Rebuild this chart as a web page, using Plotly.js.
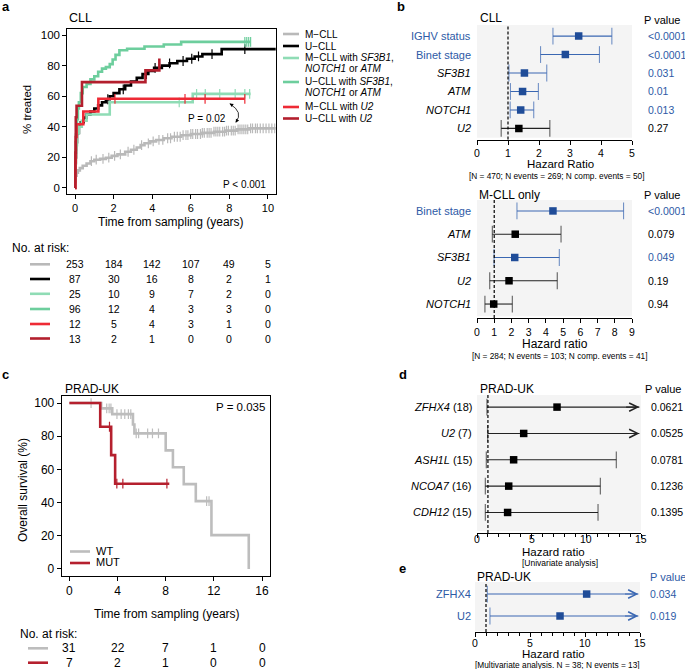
<!DOCTYPE html>
<html><head><meta charset="utf-8">
<script src="https://cdn.plot.ly/plotly-3.0.1.min.js"></script>
<style>html,body{margin:0;padding:0;background:#fff}</style>
</head><body><div id="chart" style="width:685px;height:669px"></div>
<script>
// ================= DATA =================
// Panel a: CLL, cumulative % treated (time in years)
const aSeries = ['M\u2212CLL', 'U\u2212CLL', 'M\u2212CLL with SF3B1, NOTCH1 or ATM', 'U\u2212CLL with SF3B1, NOTCH1 or ATM', 'M\u2212CLL with U2', 'U\u2212CLL with U2'];
const mcllT = [0,0.03,0.08,0.15,0.25,0.4,0.6,0.8,1.0,1.3,1.6,1.9,2.2,2.6,2.9,3.2,3.4,3.6,3.9,4.2,4.6,5.0,5.5,6.0,6.6,7.2,7.8,8.4,9.0,10.6];
const mcllV = [5,8,10,11.5,13,14.5,16,17.5,18.5,19,19.8,21,22,23.7,25,26.5,28,29.2,30.5,31.4,32.5,33.5,34.5,35.3,36,36.8,37.5,38.3,39,39];
const mcllCens = [0.85,1.1,1.45,1.75,2.05,2.35,2.75,3.05,3.45,3.8,4.05,4.35,4.55,4.8,4.95,5.15,5.3,5.45,5.6,5.75,5.85,6.0,6.1,6.25,6.35,6.5,6.6,6.7,6.85,6.95,7.05,7.2,7.3,7.4,7.5,7.65,7.75,7.85,7.95,8.1,8.2,8.3,8.45,8.55,8.65,8.75,8.85,8.95,9.1,9.2,9.35,9.45,9.6,9.75,9.9,10.05,10.2,10.35];
const ucllT = [0,0.02,0.05,0.1,0.2,0.3,0.45,0.6,0.8,1.0,1.2,1.4,1.6,1.8,2.0,2.3,2.6,2.9,3.2,3.5,3.8,4.1,4.5,4.9,5.3,5.8,6.2,6.6,7.6,10.6];
const ucllV = [10,20,30,36,40,43,46,48,50,52,54,56,58,60,62,64.5,67,69.5,72,74.5,76.5,78.5,80,81.5,83,84.5,86,87.5,90.8,90.8];
const ucllCens = [1.7,2.5,3.7,4.15,4.9,5.6,6.05,6.4,7.1,8.8];
const mMutT = [0,0.02,0.05,0.1,0.2,0.35,0.6,1.8,6.1,9.1];
const mMutV = [4,16,28,36,40,44,48,56,61.5,61.5];
const mMutCens = [5.4,6.3,6.75,7.5,8.3,8.8,9.05];
const uMutT = [0,0.02,0.05,0.1,0.15,0.2,0.3,0.4,0.6,0.8,1.0,1.2,1.4,1.6,1.8,1.95,2.1,2.3,2.7,3.6,4.6,5.5,9.1];
const uMutV = [15,25,35,45,52,56,62,66,68,71,73,76,78,79,81,84,87,90,91,92.5,93.8,95.5,95.5];
const uMutCens = [8.8,8.9,9.0,9.1];
const mU2T = [0,0.02,0.04,0.08,0.43,1.21,8.8];
const mU2V = [0,16.7,33.3,41.7,50,58.3,58.3];
const mU2Cens = [2.07,5.7,6.74,8.8];
const uU2T = [0,0.02,0.04,0.08,0.36,3.65,4.37];
const uU2V = [0,23.1,46.2,53.8,69.2,76.9,84.6];
const uU2Cens = [];
const aPvalues = ['P = 0.02', 'P < 0.001'];
const aRiskTimes = [0,2,4,6,8,10];
const aRisk = [
  [253,184,142,107,49,5],
  [87,30,16,8,2,1],
  [25,10,9,7,2,0],
  [96,12,4,3,3,0],
  [12,5,4,3,1,0],
  [13,2,1,0,0,0]
];

// Panel b (top): CLL multivariable model
const b1Labels = ['IGHV status','Binet stage','SF3B1','ATM','NOTCH1','U2'];
const b1HR = [3.28,2.85,1.53,1.47,1.41,1.35];
const b1Lo = [2.45,2.05,1.03,1.08,1.07,0.78];
const b1Hi = [4.35,3.95,2.25,1.98,1.83,2.35];
const b1P = ['<0.0001','<0.0001','0.031','0.01','0.013','0.27'];
const b1Note = '[N = 470; N events = 269; N comp. events = 50]';
// Panel b (bottom): M-CLL only
const b2Labels = ['Binet stage','ATM','SF3B1','U2','NOTCH1'];
const b2HR = [4.41,2.22,2.19,1.86,0.97];
const b2Lo = [2.32,0.89,0.99,0.74,0.46];
const b2Hi = [8.51,4.88,4.78,4.66,2.05];
const b2P = ['<0.0001','0.079','0.049','0.19','0.94'];
const b2Note = '[N = 284; N events = 103; N comp. events = 41]';
const clinical = ['IGHV status','Binet stage'];

// Panel c: PRAD-UK overall survival
const wtT = [0,2.64,3.56,5.28,5.4,8.0,8.6,9.5,10.5,11.8,14.9];
const wtV = [100,96.8,93.3,87.1,81.7,71.5,61.3,51.1,40.9,20.4,0];
const wtCens = [1.8,3.1,3.3,3.45,3.95,4.3,4.6,4.9,5.1,5.55,5.75,6.5,6.9,7.4,11.4,11.6];
const mutT = [0,2.56,3.47,3.8,8.3];
const mutV = [100,85.7,68.6,51.4,51.4];
const mutCens = [3.33,3.94,4.44,8.1];
const cGroups = ['WT','MUT'];
const cRiskTimes = [0,4,8,12,16];
const cRisk = [[31,22,7,1,0],[7,2,1,0,0]];

// Panel d: PRAD-UK univariate (null = upper limit off scale)
const dLabels = ['ZFHX4','U2','ASH1L','NCOA7','CDH12'];
const dN = [18,7,15,16,15];
const dHR = [7.32,4.27,3.35,2.9,2.8];
const dLo = [0.91,0.98,0.85,0.76,0.76];
const dHi = [null,null,12.74,11.28,11.07];
const dP = ['0.0621','0.0525','0.0781','0.1236','0.1395'];
// Panel e: PRAD-UK multivariate
const eLabels = ['ZFHX4','U2'];
const eHR = [10.15,7.73];
const eLo = [1.12,1.36];
const eHi = [null,null];
const eP = ['0.034','0.019'];
const deTicks = [0,5,10,15];

// ================= DRAWING =================
const FONT = 'Liberation Sans, Arial, Helvetica, sans-serif';
const W = 685, H = 669;
const px = v => v / W;
const py = v => 1 - v / H;
const BLUE_T = '#2d5aa6', BLUE_L = '#3a67b2', BLUE_S = '#1f4c98';
const aColors = ['#b9b9b9','#000000','#8fdcb5','#6dce9d','#ee2a35','#b31f2d'];
const cColors = ['#bdbdbd','#b5202e'];

const data = [], shapes = [], ann = [];
function valueAt(T, V, t){ let v = V[0]; for (let i=0;i<T.length;i++){ if (T[i] <= t) v = V[i]; else break; } return v; }
function km(T, V, C, color, xa, ya, w){
  data.push({type:'scatter', mode:'lines', x:T, y:V, line:{shape:'hv', color:color, width:w}, xaxis:xa, yaxis:ya, hoverinfo:'skip'});
  if (C.length) data.push({type:'scatter', mode:'markers', x:C, y:C.map(t => valueAt(T,V,t)), marker:{symbol:'line-ns', size:7, color:color, line:{color:color, width:1.2}}, xaxis:xa, yaxis:ya, hoverinfo:'skip'});
}
function txt(x, y, text, o){
  o = o || {};
  ann.push(Object.assign({xref:'paper', yref:'paper', x:px(x), y:py(y), text:text, showarrow:false, xanchor:'left', yanchor:'middle', font:{family:FONT, size:11, color:'#000'}}, o, {font:Object.assign({family:FONT,size:11,color:'#000'}, o.font||{})}));
}

// ---- panel a
const aSets = [[mcllT,mcllV,mcllCens],[ucllT,ucllV,ucllCens],[mMutT,mMutV,mMutCens],[uMutT,uMutV,uMutCens],[mU2T,mU2V,mU2Cens],[uU2T,uU2V,uU2Cens]];
aSets.forEach((s,i) => km(s[0], s[1], s[2], aColors[i], 'x', 'y', 2.6));
const legY = [[34],[46],[58,68.5],[82,92.5],[107],[118.5]];
aSeries.forEach((name,i) => {
  shapes.push({type:'line', xref:'paper', yref:'paper', x0:px(283), x1:px(299), y0:py(legY[i][0]), y1:py(legY[i][0]), line:{color:aColors[i], width:2.6}});
  let html = name.replace(/SF3B1|NOTCH1|ATM|U2/g, m => '<i>'+m+'</i>');
  const parts = html.split(', ');
  if (parts.length > 1){
    txt(303, legY[i][0], parts[0]+',', {font:{size:10}});
    txt(303, legY[i][1], parts[1], {font:{size:10}});
  } else txt(303, legY[i][0], html, {font:{size:10}});
});
ann.push({xref:'x', yref:'y', x:7.93, y:45.7, xanchor:'right', yanchor:'middle', text:aPvalues[0], showarrow:false, font:{family:FONT,size:10,color:'#000'}});
ann.push({xref:'x', yref:'y', x:10.0, y:2.5, xanchor:'right', yanchor:'middle', text:aPvalues[1], showarrow:false, font:{family:FONT,size:10,color:'#000'}});
shapes.push({type:'path', xref:'x', yref:'y', path:'M8.02,55 Q8.75,49.5 8.33,43', line:{color:'#000', width:0.8}});
ann.push({xref:'x', yref:'y', axref:'x', ayref:'y', x:8.02, y:55.3, ax:8.2, ay:53.6, text:'', showarrow:true, arrowhead:2, arrowsize:0.9, arrowwidth:0.8, arrowcolor:'#000'});
ann.push({xref:'x', yref:'y', axref:'x', ayref:'y', x:8.33, y:42.6, ax:8.42, ay:44.6, text:'', showarrow:true, arrowhead:2, arrowsize:0.9, arrowwidth:0.8, arrowcolor:'#000'});
txt(67, 18, 'CLL', {font:{size:12.5}});
txt(27, 110, '% treated', {xanchor:'center', textangle:-90, font:{size:11.5}});
txt(171, 222, 'Time from sampling (years)', {xanchor:'center', font:{size:12}});
txt(10, 248.3, 'No. at risk:', {font:{size:12}});
const aRiskY = [264.3,279,293.8,309,324,338.5];
aRisk.forEach((row,i) => {
  shapes.push({type:'line', xref:'paper', yref:'paper', x0:px(30), x1:px(50), y0:py(aRiskY[i]), y1:py(aRiskY[i]), line:{color:aColors[i], width:2.6}});
  row.forEach((n,j) => ann.push({xref:'x', yref:'paper', x:aRiskTimes[j], y:py(aRiskY[i]), text:String(n), showarrow:false, xanchor:'center', yanchor:'middle', font:{family:FONT,size:10.5,color:'#000'}}));
});

// ---- panel c
km(wtT, wtV, wtCens, cColors[0], 'x4', 'y4', 2.6);
km(mutT, mutV, mutCens, cColors[1], 'x4', 'y4', 2.6);
const cLegY = [551.5, 563];
cGroups.forEach((g,i) => {
  shapes.push({type:'line', xref:'paper', yref:'paper', x0:px(70), x1:px(90), y0:py(cLegY[i]), y1:py(cLegY[i]), line:{color:cColors[i], width:2.6}});
  txt(94, cLegY[i]-1, g, {font:{size:11}});
});
txt(267, 407, 'P = 0.035', {xanchor:'right', font:{size:11.5}});
txt(63, 389, 'PRAD-UK', {font:{size:12}});
txt(23, 490, 'Overall survival (%)', {xanchor:'center', textangle:-90, font:{size:12}});
txt(167, 614, 'Time from sampling (years)', {xanchor:'center', font:{size:12}});
txt(18, 634, 'No. at risk:', {font:{size:12}});
const cRiskY = [648.3, 662.7];
cRisk.forEach((row,i) => {
  shapes.push({type:'line', xref:'paper', yref:'paper', x0:px(28), x1:px(48), y0:py(cRiskY[i]), y1:py(cRiskY[i]), line:{color:cColors[i], width:2.6}});
  row.forEach((n,j) => ann.push({xref:'x4', yref:'paper', x:cRiskTimes[j], y:py(cRiskY[i]), text:String(n), showarrow:false, xanchor:'center', yanchor:'middle', font:{family:FONT,size:12,color:'#000'}}));
});

// ---- forest plots
function isSig(p){ return parseFloat(p.replace('<','')) < 0.05; }
function forest(k, labels, hr, lo, hi, p, xmax, labelFmt, labelX, pX){
  const xa = 'x'+k, ya = 'y'+k;
  shapes.push({type:'rect', xref:xa+' domain', yref:ya+' domain', x0:0, x1:1, y0:0.015, y1:1, fillcolor:'#f4f4f4', line:{width:0}, layer:'below'});
  shapes.push({type:'line', xref:xa, yref:ya+' domain', x0:1, x1:1, y0:0, y1:1, line:{color:'#000', width:1.2, dash:'3px,2px'}});
  const lineCols = p.map(v => isSig(v) ? BLUE_L : '#222');
  hr.forEach((h,i) => {
    const off = hi[i] === null;
    const x1 = off ? xmax*0.99 : hi[i];
    data.push({type:'scatter', mode:'lines+markers', x:[lo[i], x1], y:[i,i], xaxis:xa, yaxis:ya, hoverinfo:'skip',
      line:{color:lineCols[i], width:1.1}, marker:{symbol:'line-ns', size:[12, off?0:12], color:lineCols[i], line:{color:lineCols[i], width:1.1}}, cliponaxis:false});
    if (off) ann.push({xref:xa, yref:ya, axref:xa, ayref:ya, x:xmax*0.99, y:i, ax:xmax*0.9, ay:i, text:'', showarrow:true, arrowhead:5, arrowsize:1.5, arrowwidth:1.1, arrowcolor:lineCols[i]});
    const lf = labelFmt(labels[i], i);
    ann.push({xref:'paper', yref:ya, x:px(labelX), y:i, xanchor:'right', yanchor:'middle', text:lf.text, showarrow:false, font:{family:FONT, size:11, color:lf.color}});
    ann.push({xref:'paper', yref:ya, x:px(pX), y:i, xanchor:'left', yanchor:'middle', text:p[i], showarrow:false, font:{family:FONT, size:10.5, color:isSig(p[i]) ? BLUE_T : '#000'}});
  });
  data.push({type:'scatter', mode:'markers', x:hr, y:hr.map((_,i)=>i), xaxis:xa, yaxis:ya, hoverinfo:'skip',
    marker:{symbol:'square', size:7.5, color:p.map(v => isSig(v) ? BLUE_S : '#000')}});
}
const fmtB = (l) => clinical.includes(l) ? {text:l, color:BLUE_T} : {text:'<i>'+l+'</i>', color:'#000'};
forest(2, b1Labels, b1HR, b1Lo, b1Hi, b1P, 5, fmtB, 473, 645.5);
forest(3, b2Labels, b2HR, b2Lo, b2Hi, b2P, 9, fmtB, 473, 645.5);
forest(5, dLabels, dHR, dLo, dHi, dP, 15, (l,i) => ({text:'<i>'+l+'</i> ('+dN[i]+')', color:'#000'}), 474, 649);
forest(6, eLabels, eHR, eLo, eHi, eP, 15, (l) => ({text:l, color:BLUE_T}), 473, 648);
deTicks.forEach(t => {
  ann.push({xref:'x5', yref:'paper', x:t, y:py(539), text:String(t), showarrow:false, xanchor:'center', yanchor:'middle', font:{family:FONT,size:10.5,color:'#000'}});
  ann.push({xref:'x6', yref:'paper', x:t, y:py(642.5), text:String(t), showarrow:false, xanchor:'center', yanchor:'middle', font:{family:FONT,size:10.5,color:'#000'}});
});

txt(478, 18, 'CLL', {font:{size:12}});
txt(642, 20, 'P value', {font:{size:11}});
txt(560, 163.5, 'Hazard Ratio', {xanchor:'center', font:{size:11.5}});
txt(557, 175.5, b1Note, {xanchor:'center', font:{size:8.3}});
txt(477, 195, 'M-CLL only', {font:{size:12}});
txt(642, 195, 'P value', {font:{size:11}});
txt(555, 344, 'Hazard ratio', {xanchor:'center', font:{size:12}});
txt(560, 355.5, b2Note, {xanchor:'center', font:{size:8.3}});
txt(478, 389, 'PRAD-UK', {font:{size:12}});
txt(643, 389, 'P value', {font:{size:11}});
txt(553, 552, 'Hazard ratio', {xanchor:'center', font:{size:11.5}});
txt(560, 562.5, '[Univariate analysis]', {xanchor:'center', font:{size:8.5}});
txt(475, 577, 'PRAD-UK', {font:{size:12}});
txt(648, 577, 'P value', {font:{size:11, color:BLUE_T}});
txt(553, 653.5, 'Hazard ratio', {xanchor:'center', font:{size:11.5}});
txt(557, 664.5, '[Multivariate analysis. N = 38; N events = 13]', {xanchor:'center', font:{size:8.3}});

[['a',0,6],['b',395,6],['c',0,375],['d',397,375],['e',397,568]].forEach(l => txt(l[1], l[2], '<b>'+l[0]+'</b>', {font:{size:13}}));

// ================= LAYOUT =================
const base = {showgrid:false, zeroline:false, showline:true, linecolor:'#000', linewidth:1, ticks:'outside', ticklen:4, tickwidth:1, tickcolor:'#000', tickfont:{family:FONT, size:11, color:'#000'}, fixedrange:true};
const hidden = {visible:false, showgrid:false, zeroline:false, fixedrange:true};
const layout = {
  width:W, height:H, margin:{l:0,r:0,t:0,b:0}, paper_bgcolor:'#fff', plot_bgcolor:'rgba(0,0,0,0)', showlegend:false,
  font:{family:FONT, color:'#000'},
  xaxis: Object.assign({}, base, {domain:[px(67.3),px(275.7)], range:[-0.4,10.4], tickvals:aRiskTimes, anchor:'y', mirror:true, tickfont:{family:FONT,size:11,color:'#000'}}),
  yaxis: Object.assign({}, base, {domain:[py(194.1),py(28.9)], range:[-4,104], tickvals:[0,20,40,60,80,100], anchor:'x', mirror:true, tickfont:{family:FONT,size:11.5,color:'#000'}}),
  xaxis4: Object.assign({}, base, {domain:[px(61.7),px(269.7)], range:[-0.64,16.64], tickvals:cRiskTimes, anchor:'y4', mirror:true, tickfont:{family:FONT,size:12,color:'#000'}}),
  yaxis4: Object.assign({}, base, {domain:[py(575.6),py(396.4)], range:[-4,104], tickvals:[0,20,40,60,80,100], anchor:'x4', mirror:true, tickfont:{family:FONT,size:12,color:'#000'}}),
  xaxis2: Object.assign({}, base, {domain:[px(477),px(632)], range:[0,5], dtick:1, tick0:0, anchor:'y2', tickfont:{family:FONT,size:10.5,color:'#000'}}),
  yaxis2: Object.assign({}, hidden, {domain:[py(139.5),py(25)], range:[5.6,-0.6], anchor:'x2'}),
  xaxis3: Object.assign({}, base, {domain:[px(477),px(632)], range:[0,9], dtick:1, tick0:0, anchor:'y3', tickfont:{family:FONT,size:10.5,color:'#000'}}),
  yaxis3: Object.assign({}, hidden, {domain:[py(318),py(200)], range:[4.6,-0.47], anchor:'x3'}),
  xaxis5: Object.assign({}, base, {domain:[px(477),px(641)], range:[0,15], tickvals:deTicks, ticklen:4, showticklabels:false, anchor:'y5', minor:{dtick:1, tick0:0, ticks:'outside', ticklen:2.5, tickcolor:'#000', tickwidth:1}}),
  yaxis5: Object.assign({}, hidden, {domain:[py(533),py(395)], range:[4.78,-0.46], anchor:'x5'}),
  xaxis6: Object.assign({}, base, {domain:[px(475),px(640)], range:[0,15], tickvals:deTicks, ticklen:4, showticklabels:false, anchor:'y6', minor:{dtick:1, tick0:0, ticks:'outside', ticklen:2.5, tickcolor:'#000', tickwidth:1}}),
  yaxis6: Object.assign({}, hidden, {domain:[py(632),py(582)], range:[1.73,-0.55], anchor:'x6'}),
  shapes: shapes, annotations: ann
};
Plotly.newPlot('chart', data, layout, {staticPlot:true, displayModeBar:false});
</script></body></html>
